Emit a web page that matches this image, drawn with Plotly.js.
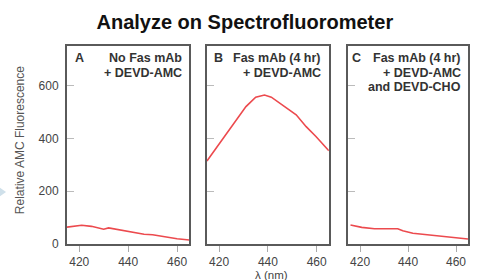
<!DOCTYPE html>
<html>
<head>
<meta charset="utf-8">
<script src="https://cdn.plot.ly/plotly-3.0.1.min.js"></script>
<style>html,body{margin:0;padding:0;background:#fff;}#chart{width:481px;height:280px;}</style>
</head>
<body>
<div id="chart"></div>
<script>
// Panel A: No Fas mAb + DEVD-AMC
const wavelengthA = [415, 418, 421, 425, 428, 430, 432, 435, 437, 441, 444, 446.5, 450, 453, 456, 460, 465];
const fluorA      = [64, 68, 71, 67, 62, 56, 61, 56, 53, 46, 40, 37, 35, 30, 25, 20, 15];
// Panel B: Fas mAb (4 hr) + DEVD-AMC
const wavelengthB = [415, 420, 425.7, 431, 435, 438.6, 441.4, 446, 451.6, 455.7, 459.8, 465];
const fluorB      = [315, 380, 452, 521, 557, 565, 557, 527, 490, 445, 407, 354];
// Panel C: Fas mAb (4 hr) + DEVD-AMC and DEVD-CHO
const wavelengthC = [416, 420.7, 426, 435.7, 437.8, 442, 448, 453.5, 465];
const fluorC      = [72, 63, 58, 58, 50, 41, 35, 30, 19];

const xTicks = [420, 440, 460];
const yTicks = [0, 200, 400, 600];
const panelLetters = ['A', 'B', 'C'];
const panelLabels = [
  ['No Fas mAb', '+ DEVD-AMC'],
  ['Fas mAb (4 hr)', '+ DEVD-AMC'],
  ['Fas mAb (4 hr)', '+ DEVD-AMC', 'and DEVD-CHO']
];

const lineStyle = {color: '#ec4a4e', width: 1.6};
const traces = [
  {x: wavelengthA, y: fluorA, xaxis: 'x', yaxis: 'y', mode: 'lines', line: lineStyle, hoverinfo: 'skip'},
  {x: wavelengthB, y: fluorB, xaxis: 'x2', yaxis: 'y2', mode: 'lines', line: lineStyle, hoverinfo: 'skip'},
  {x: wavelengthC, y: fluorC, xaxis: 'x3', yaxis: 'y3', mode: 'lines', line: lineStyle, hoverinfo: 'skip'}
];

const font = 'Liberation Sans, Arial, Helvetica, sans-serif';
const tickFont = {family: font, size: 12, color: '#444'};

function xaxis(domain, anchor) {
  return {
    domain: domain, anchor: anchor, range: [415, 465], tickvals: xTicks,
    showline: true, mirror: true, linecolor: '#5a5a5a', linewidth: 2,
    ticks: 'outside', ticklen: 6, tickcolor: '#aaa', tickwidth: 1,
    showgrid: false, zeroline: false, tickfont: tickFont, ticklabelstandoff: 0, fixedrange: true
  };
}
function yaxis(anchor, showLabels) {
  return {
    domain: [0, 1], anchor: anchor, range: [0, 751], tickvals: yTicks,
    showline: true, mirror: true, linecolor: '#5a5a5a', linewidth: 2,
    ticks: 'inside', ticklen: 7, tickcolor: '#bbb', tickwidth: 1,
    showgrid: false, zeroline: false, tickfont: tickFont,
    showticklabels: showLabels, ticklabelstandoff: 4, fixedrange: true
  };
}

const annotations = [];
const axRefs = [['x', 'y'], ['x2', 'y2'], ['x3', 'y3']];
const lineY = [0.938, 0.866, 0.793];
const letterX = [0.049, 0.045, 0.02];
axRefs.forEach((r, i) => {
  annotations.push({
    xref: r[0] + ' domain', yref: r[1] + ' domain', x: letterX[i], y: lineY[0],
    xanchor: 'left', yanchor: 'middle', showarrow: false, text: '<b>' + panelLetters[i] + '</b>',
    font: {family: font, size: 12.5, color: '#333'}
  });
  panelLabels[i].forEach((t, j) => {
    annotations.push({
      xref: r[0] + ' domain', yref: r[1] + ' domain', x: 0.955, y: lineY[j],
      xanchor: 'right', yanchor: 'middle', showarrow: false, text: '<b>' + t + '</b>',
      font: {family: font, size: 12.5, color: '#333'}
    });
  });
});
annotations.push({
  xref: 'paper', yref: 'paper', x: -0.117, y: 0.525, textangle: -90,
  xanchor: 'center', yanchor: 'middle', showarrow: false,
  text: 'Relative AMC Fluorescence', font: {family: font, size: 12, color: '#555'}
});
annotations.push({
  xref: 'paper', yref: 'paper', x: 0.509, y: -0.155,
  xanchor: 'center', yanchor: 'middle', showarrow: false,
  text: 'λ (nm)', font: {family: font, size: 11.5, color: '#444'}
});

const layout = {
  width: 481, height: 280,
  margin: {l: 67, r: 13, t: 46, b: 36},
  paper_bgcolor: '#fff', plot_bgcolor: '#fff',
  showlegend: false,
  title: {
    text: '<b>Analyze on Spectrofluorometer</b>',
    x: 0.509, xanchor: 'center', y: 0.923, yanchor: 'middle',
    font: {family: font, size: 20, color: '#111'}
  },
  xaxis: xaxis([0, 0.305], 'y'),
  xaxis2: xaxis([0.349, 0.653], 'y2'),
  xaxis3: xaxis([0.701, 1], 'y3'),
  yaxis: yaxis('x', true),
  yaxis2: yaxis('x2', false),
  yaxis3: yaxis('x3', false),
  annotations: annotations,
  shapes: [{
    type: 'path', xref: 'paper', yref: 'paper',
    path: 'M -0.17 0.288 L -0.152 0.263 L -0.17 0.237 Z',
    fillcolor: '#cfe0ea', line: {width: 0}
  }]
};

Plotly.newPlot('chart', traces, layout, {displayModeBar: false, staticPlot: true});
</script>
</body>
</html>
